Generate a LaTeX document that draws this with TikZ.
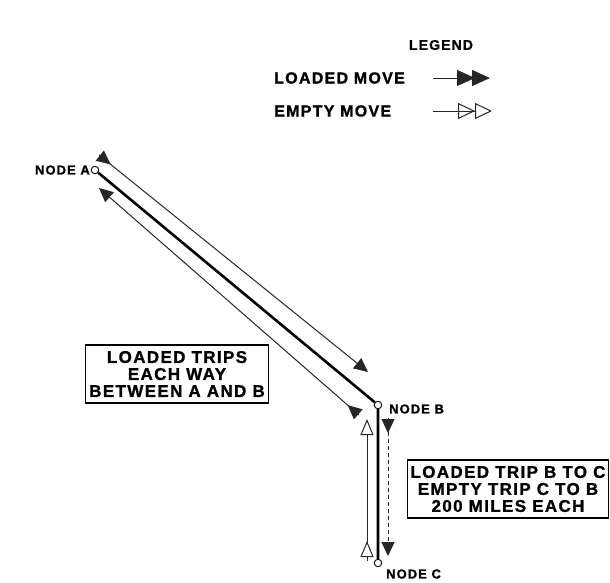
\documentclass[tikz,border=0pt]{standalone}
\usepackage{fontspec}
\setmainfont{Liberation Sans}[LetterSpace=8, BoldFeatures={FakeBold=1.2}]
\usetikzlibrary{arrows.meta,decorations.markings}
\begin{document}
\begin{tikzpicture}[x=1pt,y=-1pt,
  lbl/.style={font=\bfseries\fontsize{16}{17}\selectfont, inner sep=0pt},
  nlbl/.style={font=\bfseries\fontsize{13}{15}\selectfont, inner sep=0pt},
  boxnode/.style={draw, line width=1.3pt, align=center, font=\bfseries\fontsize{17}{17}\selectfont, inner sep=0pt},
  nodept/.style={circle, draw, line width=0.9pt, fill=white, inner sep=0pt, minimum size=7.5pt},
  mainline/.style={line width=2.6pt},
  thinline/.style={line width=1pt, black!85},
  fulltip/.tip={Triangle[length=14pt,width=13pt]},
  opentip/.tip={Triangle[length=16pt,width=13pt,fill=white]},
]
\useasboundingbox (0,0) rectangle (610,582);

% legend
\node[lbl, font=\bfseries\fontsize{14}{16}\selectfont] (leg) at (441,45) {LEGEND};
\node[lbl, anchor=west] (lm) at (274,78) {LOADED MOVE};
\node[lbl, anchor=west] (em) at (274,111) {EMPTY MOVE};
\coordinate (lms) at (433,78);
\coordinate (lme) at (490,78);
\coordinate (ems) at (433,111);
\coordinate (eme) at (492,111);
\draw[thinline, -{Triangle[length=18pt,width=16pt,sep=-3pt]Triangle[length=18pt,width=16pt]}] (lms) -- (lme);
\draw[thinline, -{Triangle[open,length=17pt,width=16pt]Triangle[open,length=17pt,width=16pt]}] (ems) -- (eme);

% nodes
\node[nodept] (A) at (95,170) {};
\node[nodept] (B) at (378,405) {};
\node[nodept] (C) at (378,563) {};
\node[nlbl, anchor=east] (la) at (90,170) {NODE A};
\node[nlbl, anchor=west] (lb) at (389,409) {NODE B};
\node[nlbl, anchor=west] (lc) at (386,574) {NODE C};

% main route
\draw[mainline] (A) -- (B) -- (C);

% thin trip lines A-B
\coordinate (u1) at (99,155);
\coordinate (u2) at (368,372);
\coordinate (l1) at (359,415);
\coordinate (l2) at (99,188);
\draw[thinline, -{fulltip}, postaction={decorate},
  decoration={markings, mark=at position 15pt with {\arrow{fulltip}}}] (u1) -- (u2);
\draw[thinline, -{fulltip}, postaction={decorate},
  decoration={markings, mark=at position 15pt with {\arrow{fulltip}}}] (l1) -- (l2);

% vertical trip lines B-C
\coordinate (v1) at (367,561);
\coordinate (v2) at (367,419);
\coordinate (d1) at (388,418);
\coordinate (d2) at (388,556);
\draw[thinline, -{opentip}, postaction={decorate},
  decoration={markings, mark=at position 20pt with {\arrow{opentip}}}] (v1) -- (v2);
\draw[thinline, dash pattern=on 4pt off 3pt, -{fulltip}, postaction={decorate},
  decoration={markings, mark=at position 15pt with {\arrow{fulltip}}}] (d1) -- (d2);

% boxes
\node[boxnode, minimum width=183pt, minimum height=58pt] (box1) at (177,374)
  {LOADED TRIPS\\EACH WAY\\BETWEEN A AND B};
\node[boxnode, minimum width=201pt, minimum height=58pt] (box2) at (508,489)
  {LOADED TRIP B TO C\\EMPTY TRIP C TO B\\200 MILES EACH};
\end{tikzpicture}
\end{document}
